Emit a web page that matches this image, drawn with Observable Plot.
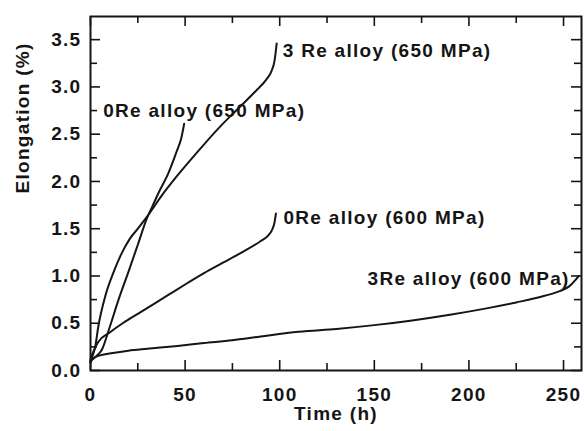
<!DOCTYPE html>
<html><head><meta charset="utf-8">
<script src="https://cdn.jsdelivr.net/npm/d3@7"></script>
<script src="https://cdn.jsdelivr.net/npm/@observablehq/plot@0.6"></script>
<style>body{margin:0;background:#fff}</style>
</head><body><div id="chart"></div>
<script>
// ---- data (time in h, elongation in %) ----
const time3Re650 = [0, 1, 2.5, 4, 8, 12, 16, 21, 25, 30, 38, 45, 56, 68, 79, 88, 93, 95.5, 97.3, 98.4];
const elong3Re650 = [0.1, 0.15, 0.25, 0.45, 0.8, 1.03, 1.22, 1.4, 1.5, 1.63, 1.86, 2.04, 2.3, 2.57, 2.79, 2.97, 3.08, 3.16, 3.28, 3.46];

const time0Re650 = [0, 3, 6, 10, 15, 20, 25, 30, 33, 36, 41, 45.6, 48, 49.5];
const elong0Re650 = [0.1, 0.15, 0.22, 0.45, 0.76, 1.04, 1.33, 1.62, 1.75, 1.88, 2.08, 2.32, 2.46, 2.61];

const time0Re600 = [0, 1.5, 4, 10, 17, 25, 34, 42, 50, 60, 70, 80, 90, 94, 96, 97.2, 98];
const elong0Re600 = [0.12, 0.2, 0.3, 0.4, 0.5, 0.6, 0.71, 0.81, 0.91, 1.03, 1.14, 1.25, 1.37, 1.43, 1.49, 1.56, 1.66];

const time3Re600 = [0, 1, 5, 10, 20, 30, 46, 60, 75, 90, 110, 130, 150, 170, 190, 210, 225, 240, 248, 253, 256, 258];
const elong3Re600 = [0.08, 0.12, 0.16, 0.18, 0.21, 0.23, 0.26, 0.29, 0.32, 0.36, 0.41, 0.44, 0.48, 0.53, 0.59, 0.66, 0.72, 0.79, 0.84, 0.89, 0.95, 1.0];

const seriesNames = ["3 Re alloy (650 MPa)", "0Re alloy (650 MPa)", "0Re alloy (600 MPa)", "3Re alloy (600 MPa)"];

const xMajorTicks = [0, 50, 100, 150, 200, 250];
const xMinorTicks = [25, 75, 125, 175, 225];
const yMajorTicks = [0, 0.5, 1.0, 1.5, 2.0, 2.5, 3.0, 3.5];
const yMinorTicks = [0.25, 0.75, 1.25, 1.75, 2.25, 2.75, 3.25];

const xTitle = "Time (h)";
const yTitle = "Elongation (%)";

// ---- build tables ----
const toRows = (ts, es) => ts.map((t, i) => ({t, e: es[i]}));
const s3Re650 = toRows(time3Re650, elong3Re650);
const s0Re650 = toRows(time0Re650, elong0Re650);
const s0Re600 = toRows(time0Re600, elong0Re600);
const s3Re600 = toRows(time3Re600, elong3Re600);

const W = 584, H = 431;
const mL = 90, mR = 3, mT = 16, mB = 61;
const innerW = W - mL - mR, innerH = H - mT - mB;
const ink = "#151515";
const major = 10, minor = 7;

const lineOpts = {x: "t", y: "e", stroke: ink, strokeWidth: 2, curve: "monotone-x"};
const lastLabel = (data, name, opts) =>
  Plot.text([data[data.length - 1]], {x: "t", y: "e", text: () => name, fill: ink, ...opts});

const chart = Plot.plot({
  width: W, height: H,
  marginLeft: mL, marginRight: mR, marginTop: mT, marginBottom: mB,
  style: {fontFamily: "'Liberation Sans', Arial, sans-serif", fontSize: "19px", fontWeight: "bold", letterSpacing: "1.3px", color: ink, background: "#fff"},
  x: {domain: [0, 259.5]},
  y: {domain: [0, 3.745]},
  marks: [
    // ticks (inward) on all four sides
    Plot.tickX(xMajorTicks, {x: d => d, insetTop: innerH - major, stroke: ink, strokeWidth: 1.6}),
    Plot.tickX(xMinorTicks, {x: d => d, insetTop: innerH - minor, stroke: ink, strokeWidth: 1.6}),
    Plot.tickX(xMajorTicks, {x: d => d, insetBottom: innerH - major, stroke: ink, strokeWidth: 1.6}),
    Plot.tickX(xMinorTicks, {x: d => d, insetBottom: innerH - minor, stroke: ink, strokeWidth: 1.6}),
    Plot.tickY(yMajorTicks, {y: d => d, insetRight: innerW - major, stroke: ink, strokeWidth: 1.6}),
    Plot.tickY(yMinorTicks, {y: d => d, insetRight: innerW - minor, stroke: ink, strokeWidth: 1.6}),
    Plot.tickY(yMajorTicks, {y: d => d, insetLeft: innerW - major, stroke: ink, strokeWidth: 1.6}),
    Plot.tickY(yMinorTicks, {y: d => d, insetLeft: innerW - minor, stroke: ink, strokeWidth: 1.6}),
    Plot.axisX({ticks: xMajorTicks, tickSize: 0, tickPadding: 17, label: null, tickFormat: d3.format("d"), fill: ink, fontSize: 19}),
    Plot.axisY({ticks: yMajorTicks, tickSize: 0, tickPadding: 9, label: null, tickFormat: d3.format(".1f"), fill: ink, fontSize: 19}),
    Plot.frame({stroke: ink, strokeWidth: 2}),
    // curves
    Plot.line(s3Re650, lineOpts),
    Plot.line(s0Re650, lineOpts),
    Plot.line(s0Re600, lineOpts),
    Plot.line(s3Re600, lineOpts),
    // curve labels
    lastLabel(s3Re650, seriesNames[0], {textAnchor: "start", dx: 6, dy: 7}),
    lastLabel(s0Re650, seriesNames[1], {textAnchor: "start", dx: -81, dy: -13}),
    lastLabel(s0Re600, seriesNames[2], {textAnchor: "start", dx: 7.5, dy: 4}),
    lastLabel(s3Re600, seriesNames[3], {textAnchor: "end", dx: -9, dy: 2.5}),
    // axis titles
    Plot.text([xTitle], {frameAnchor: "bottom", dy: 49, fill: ink, fontSize: 19}),
    Plot.text([yTitle], {frameAnchor: "left", rotate: -90, dx: -68, fill: ink, fontSize: 19})
  ]
});
document.getElementById("chart").appendChild(chart);
</script>
</body></html>
